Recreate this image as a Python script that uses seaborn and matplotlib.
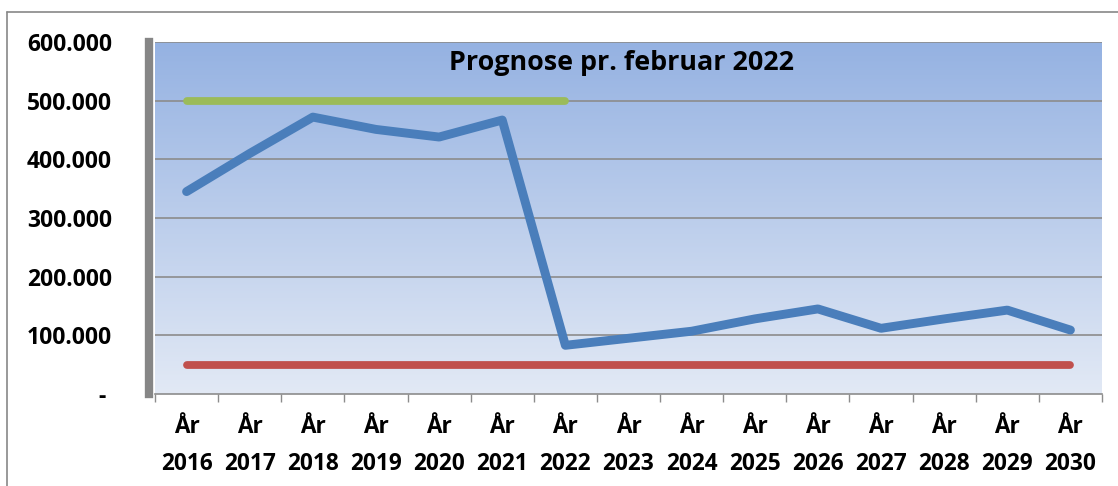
import numpy as np
import pandas as pd
import matplotlib
matplotlib.use("Agg")
import matplotlib.pyplot as plt
from matplotlib.lines import Line2D
from matplotlib.ticker import FixedLocator
import seaborn as sns

# ---- data ----
years = ["2016", "2017", "2018", "2019", "2020", "2021", "2022", "2023",
         "2024", "2025", "2026", "2027", "2028", "2029", "2030"]
prognose = [345000, 410000, 472000, 451000, 438000, 467000, 83000, 95000,
            107000, 128000, 145000, 112000, 128000, 143000, 109000]
green_years = ["2016", "2017", "2018", "2019", "2020", "2021", "2022"]
green_vals = [500000] * 7
red_vals = [50000] * 15
title = "Prognose pr. februar 2022"
ytick_vals = [0, 100000, 200000, 300000, 400000, 500000, 600000]
ytick_labels = ["- ", "100.000", "200.000", "300.000", "400.000", "500.000", "600.000"]

sns.set_theme(style="white")
plt.rcParams["font.family"] = ["Open Sans", "DejaVu Sans"]
plt.rcParams["font.weight"] = "bold"

W, H = 1118, 486
fig = plt.figure(figsize=(W / 100, H / 100), dpi=100)
fig.patch.set_facecolor("white")
ax = fig.add_axes([155 / W, 1 - 394 / H, (1102 - 155) / W, (394 - 42) / H])

pos = {y: i for i, y in enumerate(years)}
df = pd.DataFrame({"x": [pos[y] for y in years], "v": prognose})
dg = pd.DataFrame({"x": [pos[y] for y in green_years], "v": green_vals})
dr = pd.DataFrame({"x": [pos[y] for y in years], "v": red_vals})

# gradient background
grad = np.linspace(0, 1, 256).reshape(-1, 1)
top = np.array([0x95, 0xb2, 0xe2]) / 255
bot = np.array([0xe2, 0xe9, 0xf5]) / 255
img = top[None, None, :] * (1 - grad[..., None]) + bot[None, None, :] * grad[..., None]
ax.imshow(img, extent=[0, 1, 0, 1], transform=ax.transAxes, aspect="auto", zorder=0)

ax.set_xlim(-0.5, len(years) - 0.5)
ax.set_ylim(0, 600000)

# grid
for v in ytick_vals[1:]:
    ax.axhline(v, color="#8c8c8c", lw=1.2, zorder=1)

sns.lineplot(data=dg, x="x", y="v", ax=ax, color="#9bbb59", lw=5.6,
             solid_capstyle="round", zorder=3)
sns.lineplot(data=dr, x="x", y="v", ax=ax, color="#c0504d", lw=5.6,
             solid_capstyle="round", zorder=3)
sns.lineplot(data=df, x="x", y="v", ax=ax, color="#4a7ebb", lw=6.4,
             solid_capstyle="round", solid_joinstyle="round", zorder=4)

ax.set_xlabel("")
ax.set_ylabel("")

# spines
for s in ["top", "right"]:
    ax.spines[s].set_visible(False)
ax.spines["left"].set_color("#868686")
ax.spines["left"].set_linewidth(6)
ax.spines["left"].set_position(("outward", 4))
ax.spines["bottom"].set_color("#8c8c8c")
ax.spines["bottom"].set_linewidth(1.2)

# y ticks
ax.set_yticks(ytick_vals)
ax.set_yticklabels(ytick_labels)
ax.tick_params(axis="y", length=3, width=2.5, color="#868686", pad=24,
               labelsize=16.5, labelcolor="black")
for t in ax.get_yticklabels():
    t.set_fontweight("bold")

# x ticks
ax.set_xticks(list(range(len(years))))
ax.set_xticklabels(["År\n" + y for y in years], linespacing=1.75)
ax.xaxis.set_minor_locator(FixedLocator(np.arange(-0.5, len(years), 1.0)))
ax.tick_params(axis="x", which="major", length=0, pad=15, labelsize=16.3,
               labelcolor="black")
ax.tick_params(axis="x", which="minor", length=6, width=1, color="#8c8c8c",
               direction="out", bottom=True)
for t in ax.get_xticklabels():
    t.set_fontweight("bold")

ax.text(0.493, 0.94, title, transform=ax.transAxes, ha="center", va="center",
        fontsize=19.4, fontweight="bold", color="black", zorder=6)

# outer chart frame (left & top visible)
fig.add_artist(Line2D([7 / W, 7 / W], [0, 1 - 12 / H], color="#878787", lw=1.2,
                      transform=fig.transFigure))
fig.add_artist(Line2D([7 / W, 1], [1 - 12 / H, 1 - 12 / H], color="#878787", lw=1.2,
                      transform=fig.transFigure))

fig.savefig("out.png", dpi=100)
